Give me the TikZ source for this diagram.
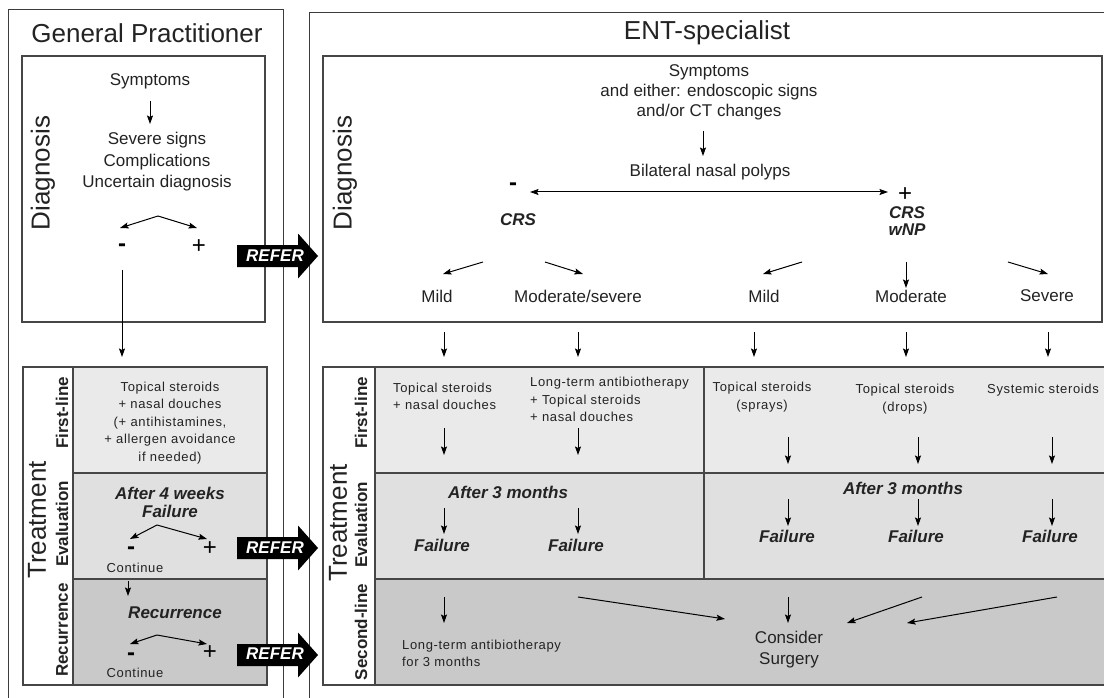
\documentclass[tikz,border=0pt]{standalone}
\usepackage{fontspec}
\setmainfont{Liberation Sans}
\newfontfamily\smallf[LetterSpace=5]{Liberation Sans}
\usetikzlibrary{arrows.meta}
\definecolor{rowA}{RGB}{234,234,234}
\definecolor{rowB}{RGB}{224,224,224}
\definecolor{rowC}{RGB}{201,201,201}
\definecolor{boxc}{RGB}{70,70,70}
\definecolor{outc}{RGB}{60,60,60}
\definecolor{txtc}{RGB}{35,35,35}
\tikzset{
  tip/.tip={Stealth[length=8.5pt,width=6pt,inset=1.5pt]},
  arr/.style={draw=black, line width=1pt, -tip},
  dbl/.style={draw=black, line width=1pt, tip-tip},
  outer/.style={draw=outc, line width=0.9pt},
  boxl/.style={draw=boxc, line width=1.3pt},
  big/.style={font=\fontsize{26}{30}\selectfont, inner sep=0pt, text=txtc},
  bigrot/.style={big, rotate=90},
  txt/.style={font=\fontsize{17}{21}\selectfont, inner sep=0pt, align=center, text=txtc},
  pm/.style={font=\fontsize{24}{24}\selectfont, inner sep=0pt},
  mn/.style={font=\fontsize{24}{24}\selectfont\bfseries, inner sep=0pt},
  bi/.style={font=\fontsize{17}{18}\selectfont\bfseries\itshape, inner sep=0pt, align=center, text=txtc},
  lab/.style={font=\fontsize{17}{20}\selectfont\bfseries, rotate=90, inner sep=0pt, text=txtc},
  sm/.style={font=\smallf\fontsize{13}{17.5}\selectfont, inner sep=0pt, text=txtc},
  refer/.style={font=\fontsize{17}{18}\selectfont\bfseries\itshape, text=white, inner sep=0pt},
  referbody/.pic={\fill[black] (-40,-11) -- (21,-11) -- (21,-22.5) -- (41,0) -- (21,22.5) -- (21,11) -- (-40,11) -- cycle;}
}
\begin{document}
\begin{tikzpicture}[x=1pt,y=-1pt]
\useasboundingbox (0,0) rectangle (1104,698);
\fill[white] (0,0) rectangle (1104,698);

% ---------- outer panels ----------
\draw[outer] (8,712) -- (8,9) -- (283,9) -- (283,712);
\draw[outer] (309,712) -- (309,12) -- (1110,12);
\node[big] (gptitle) at (147,33) {General Practitioner};
\node[big] (enttitle) at (707,33) {ENT-specialist};

% ---------- diagnosis boxes ----------
\draw[boxl] (22,56) rectangle (265,322);
\draw[boxl] (323,56) rectangle (1102,322);

% ---------- GP treatment box ----------
\fill[rowA] (73,367) rectangle (267,473);
\fill[rowB] (73,473) rectangle (267,579);
\fill[rowC] (73,579) rectangle (267,685);
\draw[boxl] (23,367) rectangle (267,685);
\draw[boxl] (73,367) -- (73,685);
\draw[boxl] (73,473) -- (267,473);
\draw[boxl] (73,579) -- (267,579);

% ---------- ENT treatment box ----------
\fill[rowA] (375,367) rectangle (1106,473);
\fill[rowB] (375,473) rectangle (1106,579);
\fill[rowC] (375,579) rectangle (1106,685);
\draw[boxl] (1106,367) -- (323,367) -- (323,685) -- (1106,685);
\draw[boxl] (375,367) -- (375,685);
\draw[boxl] (375,473) -- (1106,473);
\draw[boxl] (375,579) -- (1106,579);
\draw[boxl] (704,367) -- (704,579);

% ---------- side labels ----------
\node[bigrot] (gpdiag) at (43,173) {Diagnosis};
\node[bigrot] (entdiag) at (345,173) {Diagnosis};
\node[bigrot] (gptreat) at (37,520) {Treatment};
\node[bigrot] (enttreat) at (338,523) {Treatment};
\node[lab] (gpfirst) at (62,413) {First-line};
\node[lab] (gpeval) at (62,524) {Evaluation};
\node[lab] (gprec) at (62,630) {Recurrence};
\node[lab] (entfirst) at (361,413) {First-line};
\node[lab] (enteval) at (361,525) {Evaluation};
\node[lab] (entsecond) at (361,632) {Second-line};

% ---------- GP diagnosis ----------
\node[txt] (gsym) at (150,81) {Symptoms};
\node[txt, font=\fontsize{17}{21.5}\selectfont] (gsev) at (157,162) {Severe signs\\Complications\\Uncertain diagnosis};
\coordinate (gsymA) at (150,101);
\coordinate (gsymB) at (150,124);
\draw[arr] (gsymA) -- (gsymB);
\coordinate (gfpk) at (158,216);
\coordinate (gfl) at (120,228);
\coordinate (gfr) at (197,228);
\draw[arr] (gfpk) -- (gfl);
\draw[arr] (gfpk) -- (gfr);
\node[mn] (gminus) at (122,248) {-};
\node[pm] (gplus) at (199,247) {+};
\coordinate (gdownA) at (122,270);
\coordinate (gdownB) at (122,357);
\draw[arr] (gdownA) -- (gdownB);

% ---------- GP treatment content ----------
\node[sm, align=center] (gfirsttxt) at (170,423) {Topical steroids\\ + nasal douches\\(+ antihistamines,\\+ allergen avoidance\\if needed)};
\node[bi] (gevaltxt) at (170,502) {After 4 weeks\\Failure};
\coordinate (gepk) at (157,525);
\coordinate (gel) at (130,539);
\coordinate (ger) at (207,539);
\draw[arr] (gepk) -- (gel);
\draw[arr] (gepk) -- (ger);
\node[mn] (geminus) at (131,551) {-};
\node[pm] (geplus) at (210,549) {+};
\node[sm] (gecont) at (135,568) {Continue};
\coordinate (gcA) at (128,581);
\coordinate (gcB) at (128,596);
\draw[arr] (gcA) -- (gcB);
\node[bi] (grectxt) at (175,613) {Recurrence};
\coordinate (grpk) at (157,635);
\coordinate (grl) at (130,644);
\coordinate (grr) at (207,644);
\draw[arr] (grpk) -- (grl);
\draw[arr] (grpk) -- (grr);
\node[mn] (grminus) at (131,657) {-};
\node[pm] (grplus) at (210,653) {+};
\node[sm] (grcont) at (135,673) {Continue};

% ---------- ENT diagnosis ----------
\node[txt, font=\fontsize{17}{20}\selectfont] (esym) at (709,92) {Symptoms\\and either: endoscopic signs\\and/or CT changes};
\coordinate (esA) at (703,131);
\coordinate (esB) at (703,156);
\draw[arr] (esA) -- (esB);
\node[txt] (ebnp) at (710,172) {Bilateral nasal polyps};
\coordinate (ebL) at (530,192);
\coordinate (ebR) at (888,192);
\draw[dbl] (ebL) -- (ebR);
\node[mn] (eminus) at (513,187) {-};
\node[bi] (ecrs) at (518,220) {CRS};
\node[pm] (eplus) at (905,195) {+};
\node[bi, font=\fontsize{17}{17}\selectfont\bfseries\itshape] (ecrswnp) at (907,221) {CRS\\wNP};

\coordinate (b1A) at (483,262); \coordinate (b1B) at (443,274);
\coordinate (b2A) at (545,262); \coordinate (b2B) at (583,274);
\coordinate (b3A) at (802,262); \coordinate (b3B) at (763,274);
\coordinate (b4A) at (906,262); \coordinate (b4B) at (906,288);
\coordinate (b5A) at (1008,262); \coordinate (b5B) at (1048,274);
\draw[arr] (b1A) -- (b1B);
\draw[arr] (b2A) -- (b2B);
\draw[arr] (b3A) -- (b3B);
\draw[arr] (b4A) -- (b4B);
\draw[arr] (b5A) -- (b5B);
\node[txt] (emild1) at (437,296) {Mild};
\node[txt] (emod1) at (578,296) {Moderate/severe};
\node[txt] (emild2) at (764,296) {Mild};
\node[txt] (emod2) at (911,296) {Moderate};
\node[txt] (esev) at (1047,296) {Severe};

% arrows between boxes
\foreach \n/\x in {1/444,2/578,3/754,4/906,5/1048}{
  \coordinate (ib\n A) at (\x,332);
  \coordinate (ib\n B) at (\x,357);
  \draw[arr] (ib\n A) -- (ib\n B);
}

% ---------- ENT first-line ----------
\node[sm, align=left, anchor=west] (ef1) at (393,396.5) {Topical steroids\\+ nasal douches};
\node[sm, align=left, anchor=west] (ef2) at (530,399.5) {Long-term antibiotherapy\\+ Topical steroids\\+ nasal douches};
\node[sm, align=center] (ef3) at (762,397) {Topical steroids\\(sprays)};
\node[sm, align=center] (ef4) at (905,399) {Topical steroids\\(drops)};
\node[sm, align=center] (ef5) at (1043,390) {Systemic steroids};
\foreach \n/\x in {1/444,2/578}{
  \coordinate (fa\n A) at (\x,428);
  \coordinate (fa\n B) at (\x,455);
  \draw[arr] (fa\n A) -- (fa\n B);
}
\foreach \n/\x in {3/788,4/918,5/1052}{
  \coordinate (fa\n A) at (\x,437);
  \coordinate (fa\n B) at (\x,464);
  \draw[arr] (fa\n A) -- (fa\n B);
}

% ---------- ENT evaluation ----------
\node[bi] (eafter1) at (508,492) {After 3 months};
\node[bi] (eafter2) at (903,488) {After 3 months};
\foreach \n/\x in {1/444,2/578}{
  \coordinate (ea\n A) at (\x,508);
  \coordinate (ea\n B) at (\x,534);
  \draw[arr] (ea\n A) -- (ea\n B);
}
\foreach \n/\x in {3/788,4/918,5/1052}{
  \coordinate (ea\n A) at (\x,499);
  \coordinate (ea\n B) at (\x,526);
  \draw[arr] (ea\n A) -- (ea\n B);
}
\node[bi] (efail1) at (442,545) {Failure};
\node[bi] (efail2) at (576,545) {Failure};
\node[bi] (efail3) at (787,536) {Failure};
\node[bi] (efail4) at (916,536) {Failure};
\node[bi] (efail5) at (1050,536) {Failure};

% ---------- ENT second-line ----------
\coordinate (s1A) at (444,597); \coordinate (s1B) at (444,623);
\draw[arr] (s1A) -- (s1B);
\node[sm, align=left, anchor=west] (eabx) at (402,653.5) {Long-term antibiotherapy\\for 3 months};
\node[txt] (esurg) at (789,649.5) {Consider\\Surgery};
\coordinate (s2A) at (578,597); \coordinate (s2B) at (725,619);
\coordinate (s3A) at (788,597); \coordinate (s3B) at (788,623);
\coordinate (s4A) at (922,597); \coordinate (s4B) at (847,623);
\coordinate (s5A) at (1057,597); \coordinate (s5B) at (907,623);
\draw[arr] (s2A) -- (s2B);
\draw[arr] (s3A) -- (s3B);
\draw[arr] (s4A) -- (s4B);
\draw[arr] (s5A) -- (s5B);

% ---------- REFER arrows ----------
\pic at (277,256) {referbody};
\node[refer] (refer1) at (275,256) {REFER};
\pic at (277,548) {referbody};
\node[refer] (refer2) at (275,548) {REFER};
\pic at (277,655) {referbody};
\node[refer] (refer3) at (275,654) {REFER};
\end{tikzpicture}
\end{document}
